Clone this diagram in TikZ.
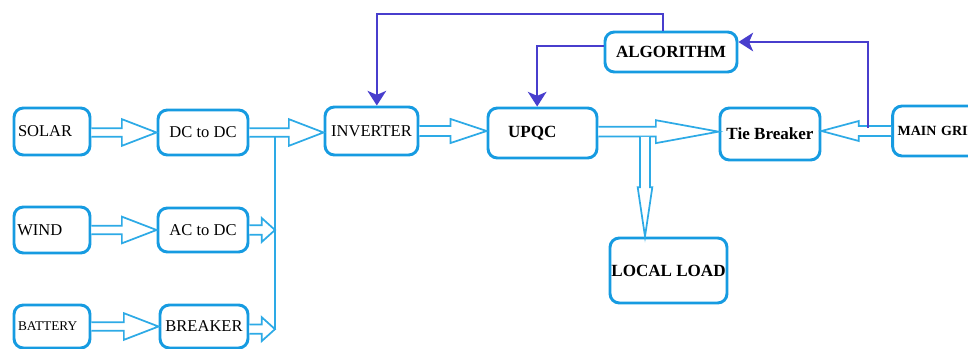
\documentclass[tikz,border=0pt]{standalone}
\usepackage{fontspec}
\setmainfont{Liberation Serif}
\usetikzlibrary{calc,arrows.meta}
\definecolor{boxc}{RGB}{22,155,225}
\definecolor{arrc}{RGB}{45,170,230}
\definecolor{ctlc}{RGB}{72,62,205}
\begin{document}
\begin{tikzpicture}[x=0.75pt,y=-0.75pt,
  box/.style={draw=boxc, line width=2.2pt, rounded corners=7pt, fill=white, inner sep=0pt,
    font=\fontsize{12.4}{14}\selectfont},
  bbox/.style={box, font=\fontsize{12.8}{14}\selectfont\bfseries},
  lbox/.style n args={2}{align=left, text width=#1, inner xsep=#2},
  blk/.style n args={3}{line width=1.3pt, draw=arrc, fill=white, to path={
    ($(\tikztostart)!#1!90:(\tikztotarget)$)
    -- ($(\tikztotarget)!#3!(\tikztostart)!#1!-90:(\tikztostart)$)
    -- ($(\tikztotarget)!#3!(\tikztostart)!#2!-90:(\tikztostart)$)
    -- (\tikztotarget)
    -- ($(\tikztotarget)!#3!(\tikztostart)!#2!90:(\tikztostart)$)
    -- ($(\tikztotarget)!#3!(\tikztostart)!#1!90:(\tikztostart)$)
    -- ($(\tikztostart)!#1!-90:(\tikztotarget)$)}},
  busline/.style={draw=arrc, line width=1.4pt},
  ctl/.style={draw=ctlc, line width=1.5pt, -{Stealth[length=11pt,width=14pt,inset=3pt]}}
]
\useasboundingbox (0,0) rectangle (968,349);

% boxes
\node[box, lbox={51pt}{3pt}, minimum height=35.25pt] (solar) at (52,131.5) {SOLAR};
\node[box, minimum width=67.5pt, minimum height=33.75pt] (dcdc) at (203,132.5) {DC to DC};
\node[box, lbox={52pt}{2.5pt}, minimum height=34.5pt] (wind) at (52,230) {WIND};
\node[box, minimum width=67.5pt, minimum height=33pt] (acdc) at (203,230) {AC to DC};
\node[box, lbox={51pt}{3pt}, minimum height=32.25pt, font=\fontsize{10}{12}\selectfont] (battery) at (52,326.5) {BATTERY};
\node[box, minimum width=66pt, minimum height=32.25pt] (breaker) at (204,326.5) {BREAKER};
\node[box, minimum width=69.75pt, minimum height=36pt] (inv) at (371.5,131) {INVERTER};
\node[bbox, lbox={51.75pt}{15pt}, minimum height=37.5pt] (upqc) at (542.5,133) {UPQC};
\node[bbox, minimum width=99pt, minimum height=30pt] (alg) at (671,52) {ALGORITHM};
\node[bbox, minimum width=75pt, minimum height=39pt] (tie) at (770,134) {Tie Breaker};
\node[bbox, lbox={72.5pt}{3.75pt}, minimum height=37.5pt, font=\fontsize{10.5}{12}\selectfont\bfseries] (grid) at (946,131) {MAIN GRID};
\node[bbox, minimum width=87.75pt, minimum height=48.75pt] (load) at (668.5,270.5) {LOCAL LOAD};

% bus coordinates
\coordinate (bustop) at (275,133);
\coordinate (busbot) at (275,330);
\coordinate (tap) at (645,137);
\coordinate (gtap) at (868,128);

% hollow block arrows
\draw[blk={3.2pt}{10pt}{26pt}] (solar.east |- dcdc.west) to (dcdc.west);
\draw[blk={3.2pt}{10pt}{26pt}] (wind.east) to (acdc.west);
\draw[blk={3.2pt}{10pt}{26pt}] (battery.east |- breaker.west) to (breaker.west);
\draw[busline] (bustop) -- (busbot);
\draw[blk={3.2pt}{10pt}{26pt}] (dcdc.east) to (dcdc.east -| inv.west);
\draw[blk={3.5pt}{9pt}{10pt}] (acdc.east) to (acdc.east -| bustop);
\draw[blk={3.5pt}{9pt}{10pt}] ([yshift=-2pt]breaker.east) to ([yshift=-2pt]breaker.east -| bustop);
\draw[blk={3.7pt}{9pt}{27pt}] (inv.east) to (inv.east -| upqc.west);
\draw[blk={3.7pt}{8.6pt}{47pt}] ([yshift=1pt]upqc.east) to ([yshift=1pt]upqc.east -| tie.west);
\draw[blk={3.7pt}{5.5pt}{37pt}] (tap) to (tap |- load.north);
\draw[blk={3.7pt}{7.5pt}{28pt}] (grid.west) to (grid.west -| tie.east);

% control lines
\draw[ctl] ([xshift=-6pt]alg.north) -- ++(0,-17) -| ([xshift=4pt]inv.north);
\draw[ctl] ([yshift=4.5pt]alg.west) -| ([xshift=-4pt]upqc.north);
\draw[ctl] (gtap) |- ([yshift=7.5pt]alg.east);
\end{tikzpicture}
\end{document}
